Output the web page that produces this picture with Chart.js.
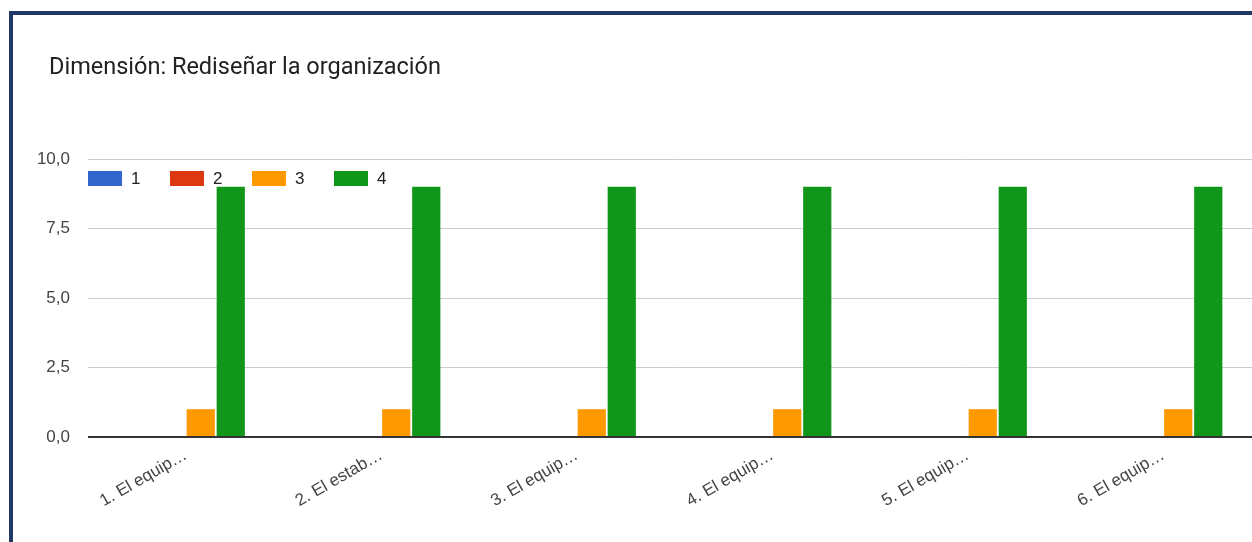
<!DOCTYPE html>
<html>
<head>
<meta charset="utf-8">
<script src="https://cdn.jsdelivr.net/npm/chart.js@4/dist/chart.umd.min.js"></script>
<style>
  html, body { margin: 0; padding: 0; background: #fff; overflow: hidden; width: 1252px; height: 542px; }
  #frame { position: absolute; left: 9px; top: 11px; width: 1400px; height: 600px; border-top: 4px solid #1f3864; border-left: 4px solid #1f3864; }
  #wrap { position: absolute; left: 13px; top: 15px; width: 1300px; height: 527px; }
</style>
</head>
<body>
<div id="frame"></div>
<div id="wrap"><canvas id="c"></canvas></div>
<script>
const chartTitle = 'Dimensión: Rediseñar la organización';
const categories = ['1. El equip…', '2. El estab…', '3. El equip…', '4. El equip…', '5. El equip…', '6. El equip…'];
const seriesNames = ['1', '2', '3', '4'];
const series1 = [0, 0, 0, 0, 0, 0];
const series2 = [0, 0, 0, 0, 0, 0];
const series3 = [1, 1, 1, 1, 1, 1];
const series4 = [9, 9, 9, 9, 9, 9];
const yTickLabels = ['0,0', '2,5', '5,0', '7,5', '10,0'];
const colors = ['#3366cc', '#dc3912', '#ff9900', '#109618'];

const titleAndLegendPlugin = {
  id: 'titleAndLegend',
  afterDraw(chart) {
    const ctx = chart.ctx;
    const a = chart.chartArea;
    ctx.save();
    // title
    ctx.fillStyle = '#212121';
    ctx.font = '23.5px Roboto, "Noto Sans", sans-serif';
    ctx.textBaseline = 'middle';
    ctx.textAlign = 'left';
    ctx.fillText(chartTitle, a.left - 39, 53);
    // legend
    chart.data.datasets.forEach((ds, i) => {
      const x = a.left + i * 82;
      const y = a.top + 12;
      ctx.fillStyle = ds.backgroundColor;
      ctx.fillRect(x, y, 34, 15);
      ctx.fillStyle = '#222';
      ctx.font = '17px "Liberation Sans", Arial, sans-serif';
      ctx.textBaseline = 'middle';
      ctx.textAlign = 'left';
      ctx.fillText(ds.label, x + 43, y + 8);
    });
    ctx.restore();
  }
};

const allSeries = [series1, series2, series3, series4];
new Chart(document.getElementById('c'), {
  type: 'bar',
  data: {
    labels: categories,
    datasets: allSeries.map((d, i) => ({
      label: seriesNames[i],
      data: d,
      backgroundColor: colors[i],
      borderWidth: 0,
      barPercentage: 0.94,
      categoryPercentage: 0.614
    }))
  },
  options: {
    responsive: true,
    maintainAspectRatio: false,
    animation: false,
    layout: { padding: { left: 0, right: 52, top: 144, bottom: 0 } },
    plugins: {
      legend: { display: false },
      tooltip: { enabled: false },
      title: { display: false }
    },
    scales: {
      x: {
        grid: { display: false, drawTicks: false },
        border: { display: false },
        afterFit(scale) { scale.height = 105; },
        ticks: {
          minRotation: 30, maxRotation: 30, autoSkip: false,
          padding: 8,
          color: '#444',
          font: { family: '"Liberation Sans", Arial, sans-serif', size: 17 }
        }
      },
      y: {
        min: 0, max: 10,
        afterFit(scale) { scale.width = 75; },
        afterBuildTicks(scale) {
          scale.ticks = yTickLabels.map((t, i) => ({ value: i * 2.5 }));
        },
        grid: {
          drawTicks: false,
          color: (c) => c.tick && c.tick.value === 0 ? '#333333' : '#cccccc',
          lineWidth: (c) => c.tick && c.tick.value === 0 ? 2 : 1
        },
        border: { display: false },
        ticks: {
          padding: 18,
          color: '#444',
          font: { family: '"Liberation Sans", Arial, sans-serif', size: 17 },
          callback: (v, i) => yTickLabels[i]
        }
      }
    }
  },
  plugins: [titleAndLegendPlugin]
});
</script>
</body>
</html>
